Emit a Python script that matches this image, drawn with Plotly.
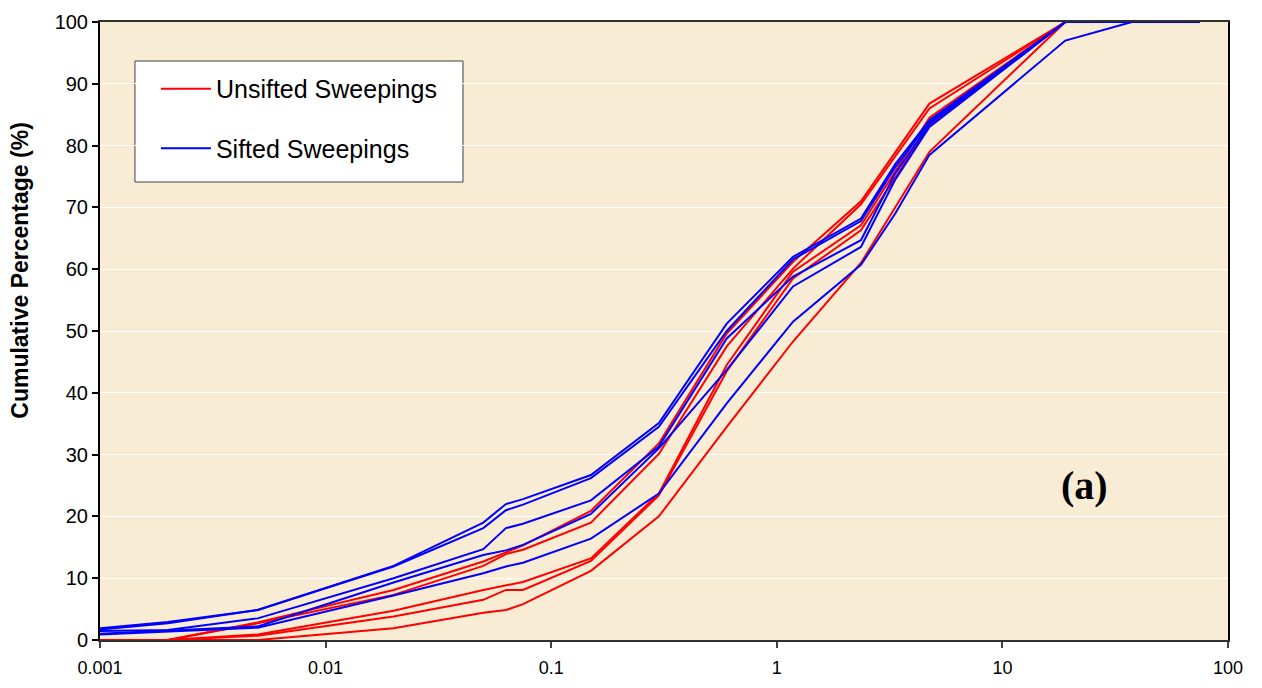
import plotly.graph_objects as go

# Particle sizes (mm)
red_sizes = [0.001, 0.002, 0.005, 0.02, 0.05, 0.063, 0.075, 0.15, 0.3, 0.6, 1.18, 2.36, 4.75, 19]
blue_sizes = [0.001, 0.002, 0.005, 0.02, 0.05, 0.063, 0.075, 0.15, 0.3, 0.6, 1.18, 2.36, 3.35, 4.75, 19, 37.5, 75]

# Unsifted sweepings (cumulative %)
unsifted_1 = [0, 0, 2.85, 8.1, 12.7, 14.2, 15.3, 20.9, 31.8, 49.6, 61.2, 71.0, 86.8, 100]
unsifted_2 = [0, 0, 2.7, 7.3, 12.0, 13.9, 14.6, 19.0, 30.1, 47.5, 60.1, 70.5, 86.0, 100]
unsifted_3 = [0, 0, 0.9, 4.75, 8.1, 8.9, 9.4, 13.2, 23.7, 44.5, 59.6, 67.1, 84.5, 100]
unsifted_4 = [0, 0, 0.7, 3.8, 6.5, 8.1, 8.1, 12.8, 23.4, 43.5, 58.5, 66.3, 83.3, 100]
unsifted_5 = [0, 0, 0, 1.9, 4.4, 4.85, 5.8, 11.2, 20.0, 34.5, 48.3, 61.0, 79.0, 100]

# Sifted sweepings (cumulative %)
sifted_1 = [1.9, 2.9, 4.85, 12.0, 19.0, 22.0, 22.8, 26.7, 35.1, 51.2, 62.0, 68.2, 77.0, 84.1, 100, 100, 100]
sifted_2 = [1.7, 2.7, 4.85, 11.9, 18.1, 21.0, 21.9, 26.2, 34.5, 50.0, 61.6, 67.8, 76.5, 83.8, 100, 100, 100]
sifted_3 = [1.45, 1.6, 3.5, 10.0, 14.7, 18.1, 18.8, 22.6, 31.3, 48.8, 58.8, 64.7, 75.5, 83.5, 100, 100, 100]
sifted_4 = [1.0, 1.5, 2.2, 9.3, 13.75, 14.5, 15.4, 20.4, 31.0, 43.7, 57.2, 63.6, 74.5, 83.0, 100, 100, 100]
sifted_5 = [0.9, 1.4, 2.0, 7.2, 10.8, 11.9, 12.5, 16.4, 23.7, 38.3, 51.5, 60.7, 69.0, 78.5, 97.0, 100, 100]

x_tickvals = [0.001, 0.01, 0.1, 1, 10, 100]
x_ticktext = ["0.001", "0.01", "0.1", "1", "10", "100"]

unsifted = [unsifted_1, unsifted_2, unsifted_3, unsifted_4, unsifted_5]
sifted = [sifted_1, sifted_2, sifted_3, sifted_4, sifted_5]

fig = go.Figure()
for i, ys in enumerate(unsifted):
    fig.add_trace(go.Scatter(x=red_sizes, y=ys, mode="lines",
                             line=dict(color="#FF0000", width=2),
                             name="Unsifted Sweepings", legendgroup="u",
                             showlegend=(i == 0)))
for i, ys in enumerate(sifted):
    fig.add_trace(go.Scatter(x=blue_sizes, y=ys, mode="lines",
                             line=dict(color="#0000FF", width=2),
                             name="Sifted Sweepings", legendgroup="s",
                             showlegend=(i == 0)))

font_family = "Arial, Liberation Sans, sans-serif"

fig.update_layout(
    width=1262, height=688,
    margin=dict(l=100, r=34, t=22, b=48),
    paper_bgcolor="white",
    plot_bgcolor="#F9ECD4",
    font=dict(family=font_family, size=16, color="black"),
    showlegend=True,
    legend=dict(
        x=0.0496, y=0.929, xanchor="left", yanchor="top",
        bgcolor="rgba(0,0,0,0)", borderwidth=0,
        font=dict(family=font_family, size=25, color="black"),
        tracegroupgap=24, itemwidth=50,
        traceorder="grouped",
    ),
    shapes=[dict(
        type="rect", xref="paper", yref="paper",
        x0=0.031, x1=0.3218, y0=0.7411, y1=0.9369,
        fillcolor="white", line=dict(color="#404040", width=1), layer="below",
    )],
    xaxis=dict(
        type="log", range=[-3, 2], automargin=False,
        tickvals=x_tickvals, ticktext=x_ticktext,
        ticks="outside", ticklen=6, tickcolor="#404040", tickwidth=2,
        ticklabelstandoff=4,
        showline=True, linecolor="#303030", linewidth=2, mirror=True,
        showgrid=False, zeroline=False,
        tickfont=dict(family=font_family, size=18),
    ),
    yaxis=dict(
        range=[0, 100], dtick=10, automargin=False,
        ticks="outside", ticklen=6, tickcolor="black", tickwidth=1.5,
        showline=True, linecolor="black", linewidth=2, mirror=True,
        showgrid=True, gridcolor="white", gridwidth=1.2,
        zeroline=False,
        tickfont=dict(family=font_family, size=20),
    ),
    annotations=[
        dict(
            x=1.366, y=25, xref="x", yref="y", text="<b>(a)</b>", showarrow=False,
            font=dict(family="Times New Roman, Liberation Serif, serif", size=40, color="black"),
        ),
        dict(
            x=-0.071, y=0.599, xref="paper", yref="paper", xanchor="center", yanchor="middle",
            text="<b>Cumulative Percentage (%)</b>", textangle=-90, showarrow=False,
            font=dict(family=font_family, size=23, color="black"),
        ),
    ],
)

fig.write_html("out.html")
